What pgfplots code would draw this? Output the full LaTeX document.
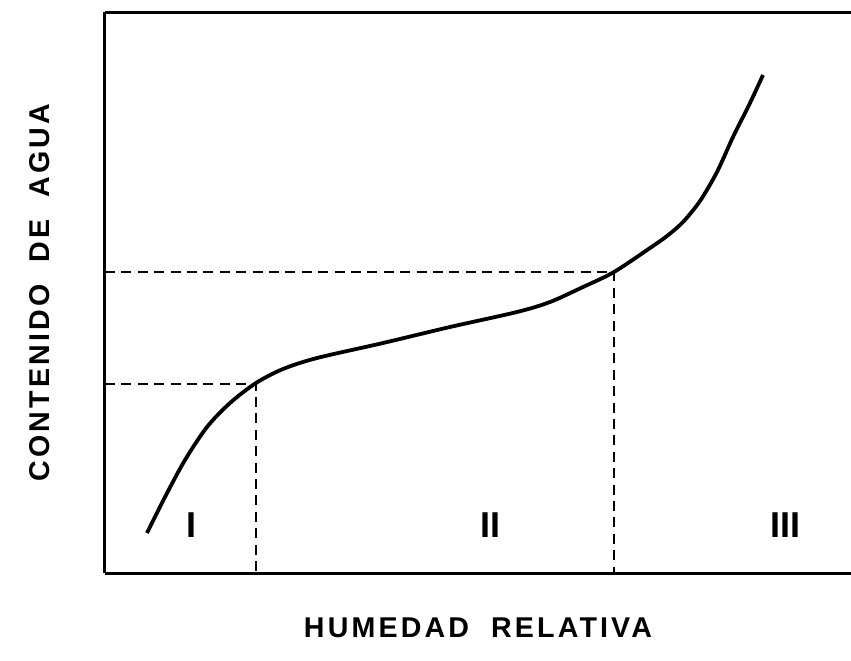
\documentclass[border=0pt]{standalone}
\usepackage{pgfplots}
\pgfplotsset{compat=1.18}
\usepackage{fontspec}
\setmainfont{Liberation Sans}
\newfontfamily\spacedfont[LetterSpace=11]{Liberation Sans}
\begin{document}
\begin{tikzpicture}
\begin{axis}[
  name=ax,
  scale only axis,
  width=373pt, height=280.5pt,
  xmin=0, xmax=746, ymin=0, ymax=561,
  axis x line=box, axis y line=left,
  axis line style={-, line width=1.5pt},
  ticks=none,
  clip=false,
  xlabel={\spacedfont\bfseries HUMEDAD\ \ RELATIVA},
  ylabel={\spacedfont\bfseries CONTENIDO\ \ DE\ \ AGUA},
  label style={font=\fontsize{14.3}{16}\selectfont},
  xlabel style={at={(axis description cs:0.5,0)}, anchor=center, yshift=-27.5pt},
  ylabel style={at={(axis description cs:0,0.5)}, anchor=center, yshift=32.5pt},
]
\addplot[black, line width=1.9pt, smooth, tension=0.5] coordinates {
(42,40) (60,76) (80,113) (102,146) (125,170) (151,190)
(178,204) (212,215) (278,230) (345,246) (412,261) (445,271)
(478,286) (509,301) (545,325) (562,337) (578,351) (595,372) (612,401)
(628,436) (645,470) (658,498)
};
\addplot[black, line width=1.2pt, dash pattern=on 5pt off 3.2pt] coordinates {(0,189) (151,189) (151,0)};
\addplot[black, line width=1.2pt, dash pattern=on 5pt off 3.2pt] coordinates {(0,301) (509,301) (509,0)};
\node[font=\fontsize{18}{20}\selectfont\bfseries] at (axis cs:87,48) {I};
\node[font=\fontsize{18}{20}\selectfont\bfseries] at (axis cs:385,48) {II};
\node[font=\fontsize{18}{20}\selectfont\bfseries] at (axis cs:680,48) {III};
\end{axis}
\pgfresetboundingbox
\path[use as bounding box] ([shift={(-52.5pt,-43.5pt)}]ax.south west) rectangle ([shift={(0pt,6pt)}]ax.north east);
\end{tikzpicture}
\end{document}
